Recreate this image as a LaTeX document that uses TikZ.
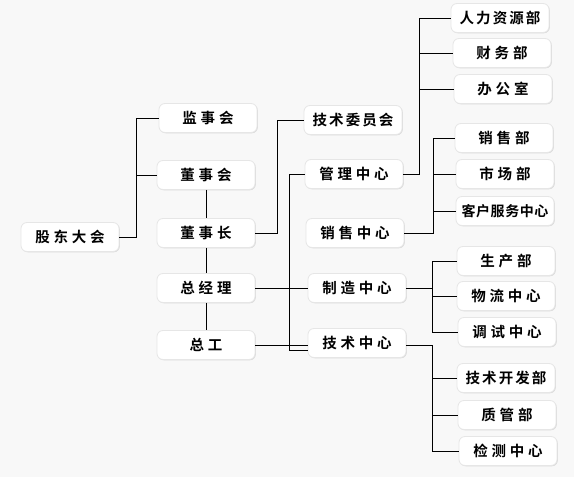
\documentclass[tikz,border=0pt]{standalone}
\usepackage{fontspec}
\newfontfamily\cjk[LetterSpace=26]{Noto Sans CJK SC Bold}
\newfontfamily\cjkm[LetterSpace=14]{Noto Sans CJK SC Bold}
\newfontfamily\cjkn[LetterSpace=4]{Noto Sans CJK SC Bold}
\usetikzlibrary{shadows}
\definecolor{bg}{HTML}{F8F8F8}
\definecolor{edge}{HTML}{E6E6E6}
\begin{document}
\begin{tikzpicture}[x=1pt,y=-1pt,
  box/.style={draw=edge, line width=0.8pt, fill=white, rounded corners=6pt,
    minimum width=98pt, minimum height=29pt, inner sep=0pt,
    font=\cjk\fontsize{14.5}{15}\selectfont,
    drop shadow={shadow xshift=0.8pt, shadow yshift=-0.8pt, opacity=0.12, fill=black}},
  mid/.style={font=\cjkm\fontsize{14.5}{15}\selectfont},
  narrow/.style={font=\cjkn\fontsize{14}{15}\selectfont},
  conn/.style={draw=black, line width=0.9pt}]
\fill[bg] (0,0) rectangle (574,477);
\useasboundingbox (0,0) rectangle (574,477);
% column 1
\node[box] (gd) at (70,237) {股东大会};
% column 2
\node[box] (jsh) at (208,118) {监事会};
\node[box] (dsh) at (206,175) {董事会};
\node[box] (dsz) at (206,233) {董事长};
\node[box] (zjl) at (206,288) {总经理};
\node[box] (zg) at (206,345) {总工};
% column 3
\node[box,mid] (jswy) at (353,120) {技术委员会};
\node[box] (glzx) at (354,174) {管理中心};
\node[box] (xszx) at (355,233) {销售中心};
\node[box] (zzzx) at (357,288) {制造中心};
\node[box] (jszx) at (357,343) {技术中心};
% column 4
\node[box,mid] (rl) at (500,18) {人力资源部};
\node[box] (cw) at (502,53) {财务部};
\node[box] (bgs) at (503,89) {办公室};
\node[box] (xsb) at (504,138) {销售部};
\node[box] (scb) at (505,174) {市场部};
\node[box,narrow] (kf) at (505,211) {客户服务中心};
\node[box] (scbu) at (506,261) {生产部};
\node[box] (wl) at (506,296) {物流中心};
\node[box] (ts) at (507,332) {调试中心};
\node[box,mid] (jskf) at (506,378) {技术开发部};
\node[box] (zgb) at (507,415) {质管部};
\node[box] (jc) at (508,451) {检测中心};
% helper coordinates
\coordinate (a1) at (136,0);
\coordinate (a2) at (277,0);
\coordinate (a3) at (419,0);
\coordinate (a4) at (289,0);
\coordinate (a5) at (433,0);
\coordinate (a6) at (432,0);
\coordinate (a7) at (432,0);
% connectors
\begin{scope}[conn]
\draw (gd.east) -- (gd.east -| a1) |- (jsh.west);
\draw (a1 |- dsh) -- (dsh.west);
\draw (dsh.south) -- (dsz.north);
\draw (dsz.south) -- (zjl.north);
\draw (zjl.south) -- (zg.north);
\draw (dsz.east) -- (dsz.east -| a2) |- (jswy.west);
\draw (zjl.east) -- (zzzx.west);
\draw (zg.east) -- (zg.east -| jszx.west) ;
\draw (glzx.west) -- (glzx.west -| a4) |- ([yshift=-7pt]jszx.west);
\draw (glzx.east) -- (glzx.east -| a3) |- (rl.west);
\draw (a3 |- cw) -- (cw.west);
\draw (a3 |- bgs) -- (bgs.west);
\draw (xszx.east) -- (xszx.east -| a5) |- (xsb.west);
\draw (a5 |- scb) -- (scb.west);
\draw (a5 |- kf) -- (kf.west);
\draw (zzzx.east) -- (zzzx.east -| a6);
\draw (a6 |- scbu) -- (scbu.west);
\draw (a6 |- scbu) -- (a6 |- ts);
\draw (a6 |- wl) -- (wl.west);
\draw (a6 |- ts) -- (ts.west);
\draw ([yshift=-2pt]jszx.east) -- ([yshift=-2pt]jszx.east -| a7) |- (jc.west);
\draw (a7 |- jskf) -- (jskf.west);
\draw (a7 |- zgb) -- (zgb.west);
\end{scope}
\end{tikzpicture}
\end{document}
